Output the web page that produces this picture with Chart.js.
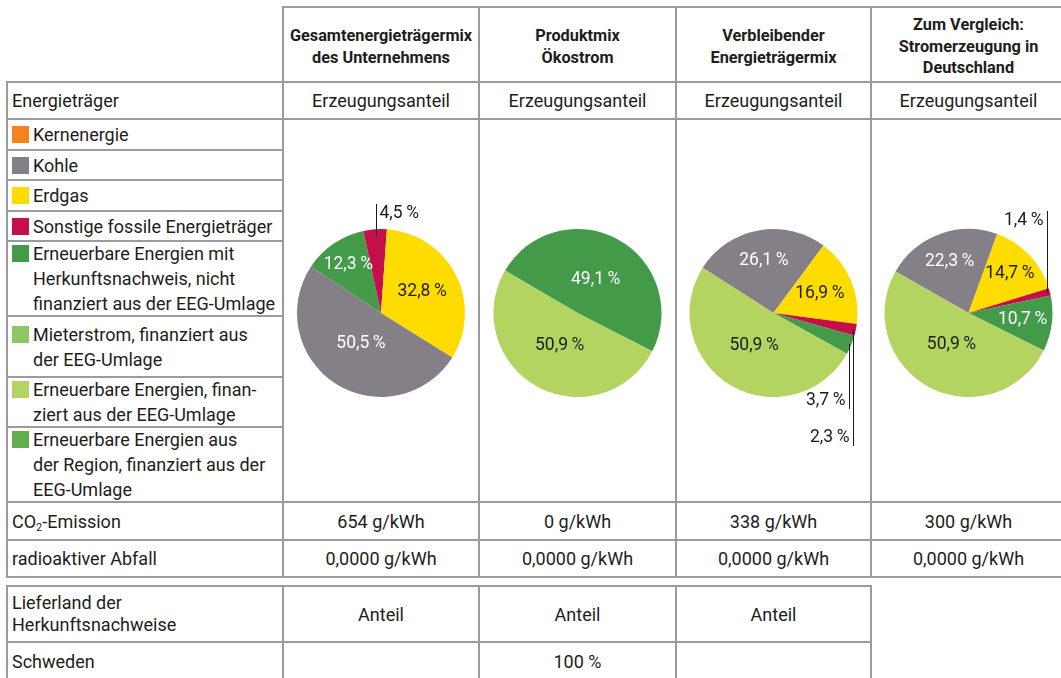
<!DOCTYPE html>
<html>
<head>
<meta charset="utf-8">
<script src="https://cdn.jsdelivr.net/npm/chart.js@4/dist/chart.umd.min.js"></script>
<style>
  body { margin: 0; background: #fff; font-family: Roboto, sans-serif; color: #1d1d1b; }
  #sheet { position: relative; width: 1061px; height: 678px; overflow: hidden; }
  .cell { position: absolute; box-sizing: border-box; border: 2px solid #9b9b9b; display: flex; align-items: center; font-size: 18px; line-height: 25px; }
  .cell.mid { justify-content: center; text-align: center; }
  .cell.left { padding-left: 4px; }
  .cell.head { font-weight: bold; font-size: 16.3px; line-height: 21.5px; padding-top: 4px; }
  .entry { position: relative; padding-left: 21px; }
  .swatch { position: absolute; left: 0; top: 4px; width: 17px; height: 17px; }
  .pie { position: absolute; }
  sub { font-size: 11px; line-height: 0; vertical-align: -3px; }
</style>
</head>
<body>
<div id="sheet"></div>
<script>
// columns of the table
const columns = ['Gesamtenergieträgermix\ndes Unternehmens', 'Produktmix\nÖkostrom', 'Verbleibender\nEnergieträgermix', 'Zum Vergleich:\nStromerzeugung in\nDeutschland'];
const shareHeader = 'Erzeugungsanteil';

// energy carriers (legend rows)
const carriers = [
  'Kernenergie',
  'Kohle',
  'Erdgas',
  'Sonstige fossile Energieträger',
  'Erneuerbare Energien mit\nHerkunftsnachweis, nicht\nfinanziert aus der EEG-Umlage',
  'Mieterstrom, finanziert aus\nder EEG-Umlage',
  'Erneuerbare Energien, finan-\nziert aus der EEG-Umlage',
  'Erneuerbare Energien aus\nder Region, finanziert aus der\nEEG-Umlage'
];
const carrierColors = ['#f5821f', '#857f87', '#ffdc00', '#c50f4b', '#439a48', '#8dc763', '#b4d462', '#63ad4a'];
const whiteText = [false, true, false, false, true, false, false, true];

// pie contents per column: carrier index and share in percent (clockwise)
const pieCarriers = [[4, 3, 2, 1], [4, 6], [1, 2, 3, 4, 6], [1, 2, 3, 4, 6]];
const pieShares = [[12.3, 4.5, 32.8, 50.5], [49.1, 50.9], [26.1, 16.9, 2.3, 3.7, 50.9], [22.3, 14.7, 1.4, 10.7, 50.9]];
const pieStart = [-56.4, -59.6, -57.5, -60.3];

// rows below the pies
const co2Values = ['654 g/kWh', '0 g/kWh', '338 g/kWh', '300 g/kWh'];
const wasteValues = ['0,0000 g/kWh', '0,0000 g/kWh', '0,0000 g/kWh', '0,0000 g/kWh'];
const originHeader = ['Anteil', 'Anteil', 'Anteil'];
const originCountries = ['Schweden'];
const originShares = [['', '100 %', '']];

// label placement (radius fraction per slice, callouts for small slices)
const labelFrac = [[0.69, 0, 0.55, 0.44], [0.45, 0.44], [0.63, 0.6, 0, 0, 0.45], [0.65, 0.68, 0, 0.65, 0.43]];
const callouts = [
  [{ index: 1, frac: 0.92, dy: -109, side: 'right' }],
  [],
  [{ index: 2, frac: 0.97, dy: 133, side: 'left' }, { index: 3, frac: 0.97, dy: 96, side: 'left' }],
  [{ index: 2, frac: 0.97, dy: -102, side: 'left' }]
];

const colX = [7, 283, 479, 676, 871, 1066];
const sheet = document.getElementById('sheet');

function addCell(x0, y0, x1, y1, html, cls) {
  const d = document.createElement('div');
  d.className = 'cell ' + (cls || '');
  d.style.left = (x0 - 1) + 'px';
  d.style.top = (y0 - 1) + 'px';
  d.style.width = (x1 - x0 + 2) + 'px';
  d.style.height = (y1 - y0 + 2) + 'px';
  d.innerHTML = '<div>' + html + '</div>';
  sheet.appendChild(d);
  return d;
}
const br = s => s.replace(/\n/g, '<br>');

// header rows
columns.forEach((c, i) => addCell(colX[i + 1], 7, colX[i + 2], 82, br(c), 'mid head'));
addCell(colX[0], 82, colX[1], 119, 'Energieträger', 'left');
columns.forEach((c, i) => addCell(colX[i + 1], 82, colX[i + 2], 119, shareHeader, 'mid'));

// legend rows
const rowY = [119, 150, 180, 211, 241, 316, 377, 427, 502];
carriers.forEach((c, i) => {
  addCell(colX[0], rowY[i], colX[1], rowY[i + 1],
    '<div class="entry"><span class="swatch" style="background:' + carrierColors[i] + '"></span>' + br(c) + '</div>', 'left');
});

// pie cells
columns.forEach((c, i) => addCell(colX[i + 1], 119, colX[i + 2], 502, '', ''));

addCell(colX[0], 502, colX[1], 540, 'CO<sub>2</sub>-Emission', 'left');
co2Values.forEach((v, i) => addCell(colX[i + 1], 502, colX[i + 2], 540, v, 'mid'));
addCell(colX[0], 540, colX[1], 577, 'radioaktiver Abfall', 'left');
wasteValues.forEach((v, i) => addCell(colX[i + 1], 540, colX[i + 2], 577, v, 'mid'));

// origin table
addCell(colX[0], 586, colX[1], 642, '<div style="line-height:22px">Lieferland der<br>Herkunftsnachweise</div>', 'left');
originHeader.forEach((v, i) => addCell(colX[i + 1], 586, colX[i + 2], 642, v, 'mid'));
originCountries.forEach((country, r) => {
  addCell(colX[0], 642, colX[1], 681, country, 'left');
  originShares[r].forEach((v, i) => addCell(colX[i + 1], 642, colX[i + 2], 681, v, 'mid'));
});

const fmt = v => v.toFixed(1).replace('.', ',') + '\u2009%';

const sliceLabels = {
  id: 'sliceLabels',
  afterDatasetsDraw(chart, args, opts) {
    const ctx = chart.ctx;
    const meta = chart.getDatasetMeta(0);
    const values = chart.data.datasets[0].data;
    ctx.save();
    ctx.font = '17.5px Roboto';
    meta.data.forEach((arc, i) => {
      const p = arc.getProps(['x', 'y', 'startAngle', 'endAngle', 'outerRadius'], true);
      const mid = (p.startAngle + p.endAngle) / 2;
      const text = fmt(values[i]);
      const co = opts.callouts.find(o => o.index === i);
      if (co) {
        const r = p.outerRadius * co.frac;
        const px = Math.round(p.x + Math.cos(mid) * r) + 0.5;
        const py = p.y + Math.sin(mid) * r;
        const ey = p.y + co.dy;
        ctx.strokeStyle = '#1d1d1b';
        ctx.lineWidth = 1;
        ctx.beginPath();
        ctx.moveTo(px, py);
        ctx.lineTo(px, ey);
        ctx.stroke();
        ctx.fillStyle = '#1d1d1b';
        ctx.textAlign = co.side === 'right' ? 'left' : 'right';
        ctx.textBaseline = co.dy < 0 ? 'top' : 'bottom';
        ctx.fillText(text, px + (co.side === 'right' ? 3 : -4), ey + (co.dy < 0 ? 1 : 0));
      } else {
        const r = p.outerRadius * opts.frac[i];
        ctx.fillStyle = opts.white[i] ? '#ffffff' : '#1d1d1b';
        ctx.textAlign = 'center';
        ctx.textBaseline = 'middle';
        ctx.fillText(text, p.x + Math.cos(mid) * r, p.y + Math.sin(mid) * r);
      }
    });
    ctx.restore();
  }
};

columns.forEach((c, k) => {
  const box = document.createElement('div');
  box.className = 'pie';
  box.style.left = (colX[k + 1] + 1) + 'px';
  box.style.top = '121px';
  box.style.width = (colX[k + 2] - colX[k + 1] - 2) + 'px';
  box.style.height = '380px';
  const canvas = document.createElement('canvas');
  box.appendChild(canvas);
  sheet.appendChild(box);
  const w = colX[k + 2] - colX[k + 1] - 2;
  new Chart(canvas, {
    type: 'pie',
    data: {
      labels: pieCarriers[k].map(j => carriers[j].replace(/\n/g, ' ')),
      datasets: [{
        data: pieShares[k],
        backgroundColor: pieCarriers[k].map(j => carrierColors[j]),
        borderWidth: 0
      }]
    },
    options: {
      responsive: true,
      maintainAspectRatio: false,
      animation: false,
      rotation: pieStart[k],
      layout: { padding: { top: 108, bottom: 104, left: (w - 168) / 2, right: (w - 168) / 2 } },
      plugins: {
        legend: { display: false },
        tooltip: { enabled: false },
        sliceLabels: {
          frac: labelFrac[k],
          white: pieCarriers[k].map(j => whiteText[j]),
          callouts: callouts[k]
        }
      }
    },
    plugins: [sliceLabels]
  });
});
</script>
</body>
</html>
